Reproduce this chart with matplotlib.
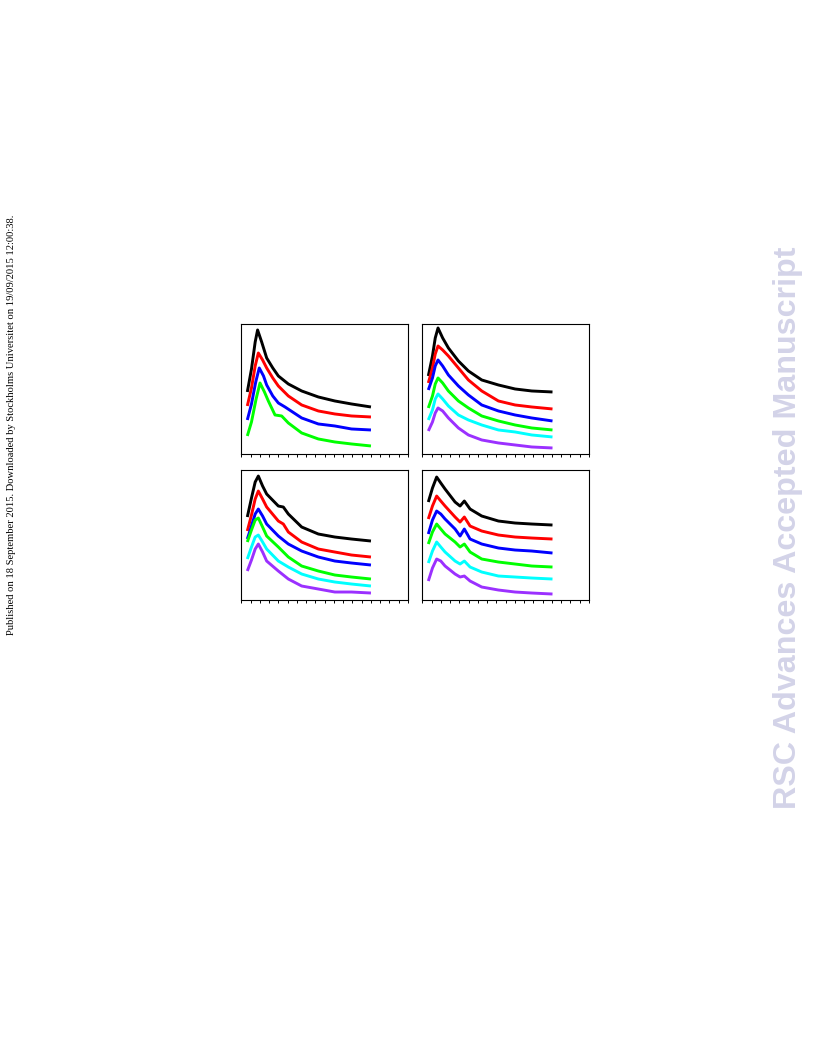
import matplotlib
matplotlib.use("Agg")
import matplotlib.pyplot as plt

# colours of the stacked patterns, top to bottom
colors = ["#000000", "#ff0000", "#0000ff", "#00ff00", "#00ffff", "#9b30ff"]

# panel (a): 4 patterns
a_x = [
    [3.25, 5.5, 7.5, 8.8, 11.0, 13.7, 17.0, 20.0, 25.4, 32.6, 41.6, 50.5, 59.5, 70.0],
    [3.25, 5.5, 7.5, 9.2, 11.5, 13.7, 17.0, 20.0, 25.4, 32.6, 41.6, 50.5, 59.5, 70.0],
    [3.25, 5.5, 7.8, 9.7, 12.0, 13.7, 17.0, 20.0, 23.6, 32.6, 41.6, 50.5, 59.5, 70.0],
    [3.25, 5.5, 8.0, 10.1, 12.5, 14.6, 18.2, 21.8, 25.4, 32.6, 41.6, 50.5, 59.5, 70.0],
]
a_y = [
    [62, 85, 112, 124, 112, 96, 86, 78, 70, 63, 57, 53, 50, 47],
    [48, 66, 88, 101, 94, 86, 76, 68, 58, 49, 43, 40, 38, 37],
    [34, 50, 72, 86, 78, 69, 58, 51, 47, 36, 30, 28, 25, 24],
    [18, 32, 55, 71, 62, 53, 39, 38, 31, 21, 15, 12, 10, 8],
]

# panel (b): 6 patterns
b_x = [3.26, 5.5, 7.0, 8.5, 11.0, 14.1, 19.5, 24.9, 32.1, 41.1, 50.1, 59.1, 70.3]
b_y = [
    [78, 98, 116, 126, 116, 106, 93, 83, 74, 69, 65, 63, 62],
    [71, 86, 100, 108, 104, 98, 86, 74, 63, 53, 49, 47, 45],
    [64, 76, 88, 94, 88, 79, 68, 59, 49, 43, 39, 36, 33],
    [46, 58, 70, 76, 71, 63, 53, 46, 38, 33, 29, 26, 24],
    [34, 44, 55, 60, 55, 48, 39, 34, 29, 24, 22, 19, 17],
    [23, 32, 41, 46, 43, 36, 26, 19, 14, 11, 9, 7, 6],
]

# panel (c): 6 patterns
c_x = [3.25, 5.5, 7.5, 9.2, 11.5, 13.7, 20.0, 22.7, 25.4, 32.6, 41.6, 50.5, 59.5, 70.0]
c_y = [
    [83, 102, 118, 124, 114, 106, 94, 93, 86, 73, 66, 63, 61, 59],
    [69, 85, 101, 109, 101, 93, 79, 76, 68, 58, 51, 48, 45, 43],
    [61, 74, 86, 91, 84, 76, 64, 60, 56, 49, 43, 39, 37, 35],
    [58, 70, 80, 82, 73, 64, 53, 48, 43, 34, 29, 25, 23, 21],
    [41, 53, 63, 65, 58, 51, 39, 36, 33, 26, 21, 18, 16, 14],
    [29, 40, 51, 56, 48, 39, 29, 25, 21, 14, 11, 8, 8, 7],
]

# panel (d): 6 patterns with a second reflection near 22.7
d_x = [3.26, 5.5, 7.76, 10.0, 12.3, 17.7, 20.4, 22.7, 25.8, 32.1, 41.1, 50.1, 59.1, 70.3]
d_y = [
    [98, 112, 123, 117, 111, 98, 94, 99, 91, 84, 79, 77, 76, 75],
    [81, 94, 104, 99, 94, 83, 78, 83, 74, 69, 65, 63, 62, 61],
    [66, 80, 89, 86, 81, 71, 64, 71, 61, 56, 52, 50, 49, 47],
    [56, 68, 76, 71, 66, 58, 53, 56, 48, 41, 38, 36, 34, 33],
    [37, 49, 58, 53, 48, 39, 36, 39, 33, 28, 24, 23, 22, 21],
    [19, 32, 41, 39, 34, 26, 23, 24, 19, 13, 10, 8, 7, 6],
]

fig = plt.figure(figsize=(8.16, 10.56), dpi=100)

w, h = 0.2043, 0.1231
positions = [
    [0.2957, 0.5701, w, h],
    [0.5175, 0.5701, w, h],
    [0.2957, 0.4318, w, h],
    [0.5175, 0.4318, w, h],
]
panels = [
    (a_x, a_y),
    (b_x, b_y),
    (c_x, c_y),
    (d_x, d_y),
]

for pos, (xs, ys) in zip(positions, panels):
    ax = fig.add_axes(pos)
    for i, yv in enumerate(ys):
        xv = xs[i] if isinstance(xs[0], list) else xs
        ax.plot(xv, yv, color=colors[i], lw=2.1,
                solid_joinstyle="round", solid_capstyle="butt")
    ax.set_xlim(0, 90)
    ax.set_ylim(0, 130)
    ax.set_xticks(range(0, 91, 5))
    ax.set_xticklabels([])
    ax.set_yticks([])
    ax.tick_params(axis="x", direction="out", length=2.2, width=0.7)
    for sp in ax.spines.values():
        sp.set_linewidth(0.8)

fig.text(0.0147, 0.5975,
         "Published on 18 September 2015. Downloaded by Stockholms Universitet on 19/09/2015 12:00:38.",
         rotation=90, ha="center", va="center", fontsize=7.6,
         family="Liberation Serif")

fig.text(0.9657, 0.5005, "RSC Advances Accepted Manuscript",
         rotation=90, ha="center", va="center", fontsize=23.2,
         weight="bold", family="Liberation Sans", color="#d3d3e8")

fig.savefig("out.png", dpi=100)
